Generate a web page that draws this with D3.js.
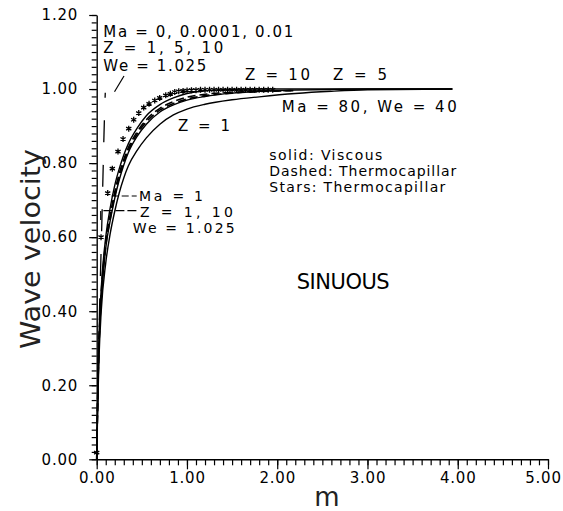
<!DOCTYPE html>
<html><head><meta charset="utf-8">
<script src="https://cdn.jsdelivr.net/npm/d3@7"></script>
<style>
body{margin:0;background:#fff;}
svg{display:block;font-family:"DejaVu Sans",sans-serif;}
</style></head><body>
<svg id="chart" width="563" height="511"></svg>
<script>
// ---- tick labels ----
const xTicks = [0, 1, 2, 3, 4, 5];
const xTickLabels = ["0.00", "1.00", "2.00", "3.00", "4.00", "5.00"];
const yTicks = [0, 0.2, 0.4, 0.6, 0.8, 1.0, 1.2];
const yTickLabels = ["0.00", "0.20", "0.40", "0.60", "0.80", "1.00", "1.20"];

// ---- Stars: thermocapillary (Ma = 1) ----
const starM = [0, 0.048, 0.122, 0.173, 0.236, 0.292, 0.355, 0.41, 0.466, 0.521,
  0.58, 0.643, 0.698, 0.765, 0.816, 0.865, 0.909, 0.957, 1.001,
  1.05, 1.1, 1.15, 1.2, 1.25, 1.3, 1.35, 1.4, 1.45, 1.5, 1.55, 1.6, 1.65, 1.7, 1.75, 1.8, 1.85, 1.9, 1.95];
const starV = [0.018, 0.600, 0.719, 0.785, 0.831, 0.865, 0.893, 0.917, 0.935, 0.950,
  0.960, 0.969, 0.976, 0.983, 0.987, 0.992, 0.994, 0.995, 0.996,
  0.997, 0.997, 0.998, 0.998, 0.998, 0.998, 0.998, 0.998, 0.998, 0.998, 0.998, 0.998, 0.998, 0.998, 0.998, 0.998, 0.998, 0.998, 0.998];

// ---- Solid: viscous ----
const viscM = [0, 0.005, 0.012, 0.025, 0.05, 0.1, 0.15, 0.2, 0.25, 0.3, 0.35, 0.45, 0.55, 0.7, 0.85, 1.0, 1.2, 1.5, 1.8, 2.2, 2.6, 3.0, 3.94];
const viscTopV = [0, 0.08, 0.2, 0.33, 0.46, 0.6, 0.68, 0.74, 0.785, 0.822, 0.852, 0.895, 0.928, 0.958, 0.976, 0.988, 0.995, 0.999, 1.0, 1.0, 1.0, 1.0, 1.0];
const viscMidV = [0, 0.07, 0.17, 0.3, 0.43, 0.57, 0.645, 0.705, 0.755, 0.795, 0.828, 0.873, 0.905, 0.938, 0.957, 0.970, 0.980, 0.989, 0.994, 0.997, 0.999, 1.0, 1.0];
const viscLowV = [0, 0.06, 0.15, 0.27, 0.40, 0.53, 0.61, 0.67, 0.72, 0.76, 0.792, 0.835, 0.868, 0.905, 0.930, 0.946, 0.959, 0.971, 0.979, 0.988, 0.994, 0.998, 1.0];

// ---- Dashed: thermocapillary ----
const thermoM = [0, 0.005, 0.012, 0.025, 0.05, 0.1, 0.15, 0.2, 0.25, 0.3, 0.35, 0.45, 0.55, 0.7, 0.85, 1.0, 1.2, 1.5, 1.8, 2.2];
const thermoAV = [0, 0.075, 0.185, 0.315, 0.445, 0.585, 0.66, 0.722, 0.772, 0.81, 0.841, 0.885, 0.917, 0.948, 0.966, 0.978, 0.986, 0.991, 0.994, 0.996];
const thermoBV = [0, 0.07, 0.175, 0.305, 0.435, 0.575, 0.65, 0.712, 0.762, 0.802, 0.834, 0.879, 0.911, 0.943, 0.961, 0.973, 0.982, 0.989, 0.993, 0.996];

// ---- Long-dashed steep curve ----
const longDashM = [0, 0.008, 0.018, 0.028, 0.036, 0.045, 0.055, 0.064, 0.072, 0.08, 0.088, 0.095];
const longDashV = [0, 0.12, 0.25, 0.37, 0.45, 0.53, 0.62, 0.71, 0.79, 0.87, 0.94, 0.99];

// ---- Texts ----
const topNote = ["Ma = 0, 0.0001, 0.01", "Z = 1, 5, 10", "We = 1.025"];
const starNote = ["Ma = 1", "Z = 1, 10", "We = 1.025"];
const legendNote = ["solid: Viscous", "Dashed: Thermocapillar", "Stars: Thermocapillar"];
const curveLabels = ["Z = 10", "Z = 5", "Z = 1", "Ma = 80, We = 40"];
const modeLabel = "SINUOUS";
const xTitle = "m";
const yTitle = "Wave velocity";

const svg = d3.select("#chart");
const x = d3.scaleLinear().domain([0, 5]).range([96.7, 548]);
const y = d3.scaleLinear().domain([0, 1.2]).range([459.3, 15]);

// ---- axes ----
const gx = svg.append("g").attr("transform", `translate(0,${y(0)})`);
gx.call(d3.axisBottom(x).tickValues(d3.range(0, 50.5, 1).map(d => d / 10)).tickSize(6).tickSizeOuter(0).tickFormat(""));
const gxM = svg.append("g").attr("transform", `translate(0,${y(0)})`);
gxM.call(d3.axisBottom(x).tickValues(xTicks).tickSize(10).tickSizeOuter(0).tickPadding(3)
  .tickFormat((d, i) => xTickLabels[i]));
gxM.select(".domain").remove();

const gy = svg.append("g").attr("transform", `translate(${x(0)},0)`);
gy.call(d3.axisLeft(y).tickValues(d3.range(0, 60.5, 1).map(d => d / 50)).tickSize(5).tickSizeOuter(0).tickFormat(""));
const gyM = svg.append("g").attr("transform", `translate(${x(0)},0)`);
gyM.call(d3.axisLeft(y).tickValues(yTicks).tickSize(7.5).tickSizeOuter(0).tickPadding(11)
  .tickFormat((d, i) => yTickLabels[i]));
gyM.select(".domain").remove();

svg.selectAll(".tick line").attr("stroke", "#000").attr("stroke-width", 1.2);
svg.selectAll(".domain").attr("stroke", "#000").attr("stroke-width", 1.4);
svg.selectAll(".tick text").attr("font-family", "DejaVu Sans").attr("font-size", 15)
  .attr("letter-spacing", 0.8).attr("fill", "#000");
gxM.selectAll(".tick text").filter((d, i) => i === xTicks.length - 1).attr("dx", -5);

// axis titles
svg.append("text").attr("x", 327).attr("y", 506).attr("text-anchor", "middle")
  .attr("font-size", 26).attr("fill", "#222").text(xTitle);
svg.append("text").attr("transform", "translate(40,249) rotate(-90)").attr("text-anchor", "middle")
  .attr("font-size", 27).attr("fill", "#222").attr("textLength", 200).attr("lengthAdjust", "spacingAndGlyphs")
  .text(yTitle);

// ---- curves ----
const line = d3.line().x(d => x(d[0])).y(d => y(d[1])).curve(d3.curveMonotoneX);
const pts = (ms, vs) => ms.map((m, i) => [m, vs[i]]);

function draw(ms, vs, dash, w) {
  svg.append("path").datum(pts(ms, vs)).attr("d", line)
    .attr("fill", "none").attr("stroke", "#000").attr("stroke-width", w || 1.4)
    .attr("stroke-dasharray", dash || null);
}
draw(viscM, viscLowV, null, 1.4);
draw(viscM, viscMidV, null, 1.4);
draw(viscM, viscTopV, null, 1.4);
draw(thermoM, thermoAV, "8,4", 1.6);
draw(thermoM, thermoBV, "8,4", 1.6);

svg.append("path").datum(pts(longDashM, longDashV))
  .attr("d", d3.line().x(d => x(d[0])).y(d => y(d[1])).curve(d3.curveCatmullRom))
  .attr("fill", "none").attr("stroke", "#000").attr("stroke-width", 1.3)
  .attr("stroke-dasharray", "22,22.5").attr("stroke-dashoffset", 39);

// stars
const starPath = (() => {
  const r = 3, a = r * 0.87, b = r * 0.5;
  return `M0,${-r}L0,${r}M${-a},${-b}L${a},${b}M${-a},${b}L${a},${-b}`;
})();
svg.append("g").selectAll("path").data(pts(starM, starV)).join("path")
  .attr("transform", d => `translate(${x(d[0])},${y(d[1])})`)
  .attr("d", starPath).attr("stroke", "#000").attr("stroke-width", 1.3).attr("fill", "none");

// ---- annotations ----
function label(t, xx, yy, len, fs) {
  svg.append("text").attr("x", xx).attr("y", yy).attr("font-size", fs || 15).attr("fill", "#000")
    .attr("textLength", len).attr("lengthAdjust", "spacing").text(t);
}
label(topNote[0], 103.3, 36.7, 190);
label(topNote[1], 103.3, 53.3, 120);
label(topNote[2], 103.3, 71, 103);
svg.append("line").attr("x1", 114.5).attr("y1", 91.7).attr("x2", 124).attr("y2", 76)
  .attr("stroke", "#000").attr("stroke-width", 1.2);

label(curveLabels[0], 245, 80, 65);
label(curveLabels[1], 333, 80, 54);
label(curveLabels[2], 178, 131, 52);
label(curveLabels[3], 281.7, 111.7, 175);

label(legendNote[0], 269.3, 160, 113, 14);
label(legendNote[1], 269.3, 176, 187, 14);
label(legendNote[2], 269.3, 192, 176, 14);

label(modeLabel, 296.7, 289, 93, 21);

label(starNote[0], 139, 201, 64, 14);
label(starNote[1], 140, 216.7, 93, 14);
label(starNote[2], 132.7, 233.3, 102, 14);
svg.append("line").attr("x1", 111.7).attr("y1", 196).attr("x2", 136.7).attr("y2", 196)
  .attr("stroke", "#000").attr("stroke-width", 1.2).attr("stroke-dasharray", "7,3");
svg.append("path").attr("d", d3.line()([[100.7, 220], [100.7, 210.7], [138.3, 210.7]]))
  .attr("fill", "none").attr("stroke", "#000").attr("stroke-width", 1.2).attr("stroke-dasharray", "9,3");
</script>
</body></html>
